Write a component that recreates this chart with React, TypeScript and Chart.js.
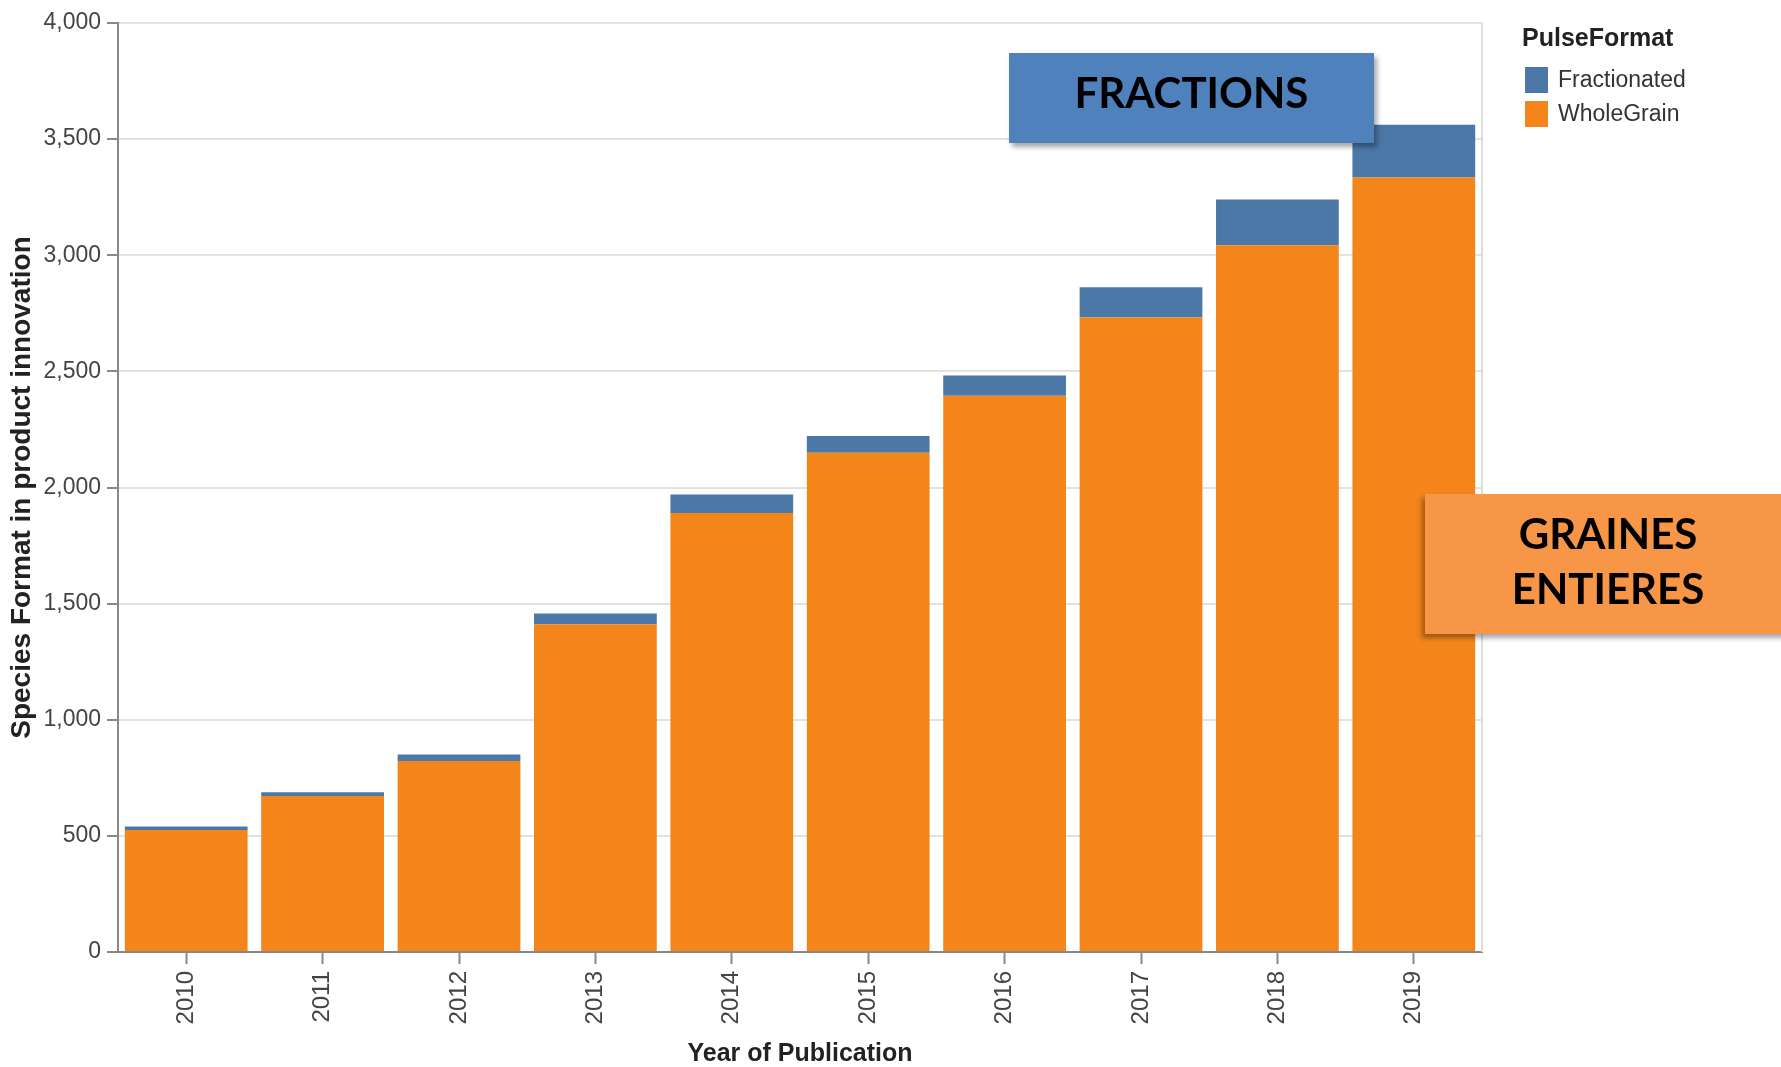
import React, { useEffect, useRef } from "react";
import { Chart, registerables } from "chart.js";

Chart.register(...registerables);

const years = ["2010", "2011", "2012", "2013", "2014", "2015", "2016", "2017", "2018", "2019"];
const wholeGrain = [525, 672, 822, 1411, 1890, 2150, 2395, 2732, 3043, 3335];
const fractionated = [15, 16, 28, 46, 80, 72, 87, 130, 197, 227];

const seriesNames = ["Fractionated", "WholeGrain"];
const seriesColors = ["#4c78a8", "#f3851b"];

const yTitle = "Species Format in product innovation";
const xTitle = "Year of Publication";
const legendTitle = "PulseFormat";

const FONT = "'Liberation Sans', Arial, Helvetica, sans-serif";

export default function App() {
  const canvasRef = useRef<HTMLCanvasElement | null>(null);

  useEffect(() => {
    if (!canvasRef.current) return;
    const borderPlugin = {
      id: "rightBorder",
      beforeDatasetsDraw(chart: any) {
        const { ctx, chartArea } = chart;
        ctx.save();
        ctx.strokeStyle = "#dddddd";
        ctx.lineWidth = 2;
        ctx.beginPath();
        ctx.moveTo(chartArea.right, chartArea.top);
        ctx.lineTo(chartArea.right, chartArea.bottom);
        ctx.stroke();
        ctx.restore();
      },
    };
    const chart = new Chart(canvasRef.current, {
      type: "bar",
      data: {
        labels: years,
        datasets: [
          {
            label: seriesNames[1],
            data: wholeGrain,
            backgroundColor: seriesColors[1],
            borderWidth: 0,
            barPercentage: 0.9,
            categoryPercentage: 1,
          },
          {
            label: seriesNames[0],
            data: fractionated,
            backgroundColor: seriesColors[0],
            borderWidth: 0,
            barPercentage: 0.9,
            categoryPercentage: 1,
          },
        ],
      },
      options: {
        animation: false,
        responsive: true,
        maintainAspectRatio: false,
        layout: { padding: { left: 0, right: 299, top: 23, bottom: 0 } },
        plugins: {
          legend: { display: false },
          tooltip: { enabled: false },
        },
        scales: {
          x: {
            stacked: true,
            afterFit(scale: any) {
              scale.height = 115;
            },
            grid: {
              drawOnChartArea: false,
              drawTicks: true,
              tickLength: 12,
              tickColor: "#888888",
              tickWidth: 2,
              offset: false,
            },
            border: { display: true, color: "#888888", width: 2 },
            ticks: {
              autoSkip: false,
              minRotation: 90,
              maxRotation: 90,
              padding: 7,
              color: "#444444",
              font: { family: FONT, size: 24 },
            },
            title: {
              display: true,
              text: xTitle,
              color: "#222222",
              font: { family: FONT, size: 25, weight: "bold", lineHeight: 1 },
              padding: { top: 0, bottom: 0 },
            },
          },
          y: {
            stacked: true,
            min: 0,
            max: 4000,
            afterFit(scale: any) {
              scale.width = 118;
            },
            grid: {
              color: "#e2e2e2",
              lineWidth: 2,
              drawTicks: true,
              tickLength: 11,
              tickColor: "#888888",
              tickWidth: 2,
            },
            border: { display: true, color: "#888888", width: 2 },
            ticks: {
              stepSize: 500,
              padding: 6,
              color: "#444444",
              font: { family: FONT, size: 23 },
              callback: (v: any) => Number(v).toLocaleString("en-US"),
            },
            title: {
              display: true,
              text: yTitle,
              color: "#222222",
              font: { family: FONT, size: 28, weight: "bold", lineHeight: 1 },
              padding: { top: 8, bottom: 0 },
            },
          },
        },
      },
      plugins: [borderPlugin],
    });
    return () => chart.destroy();
  }, []);

  const boxText: React.CSSProperties = {
    fontFamily: "Lato, 'Open Sans', sans-serif",
    fontWeight: 700,
    fontSize: 42,
    color: "#000",
    textAlign: "center",
    position: "absolute",
  };

  return (
    <div
      style={{
        position: "absolute",
        left: 0,
        top: 0,
        width: 1781,
        height: 1067,
        overflow: "hidden",
        background: "#ffffff",
      }}
    >
      <div style={{ position: "absolute", left: 0, top: 0, width: 1781, height: 1067 }}>
        <canvas ref={canvasRef} />
      </div>

      {/* Legend */}
      <div
        style={{
          position: "absolute",
          left: 1522,
          top: 25,
          fontFamily: FONT,
          fontWeight: 700,
          fontSize: 25,
          lineHeight: "24px",
          color: "#222",
          whiteSpace: "nowrap",
        }}
      >
        {legendTitle}
      </div>
      {seriesNames.map((name, i) => (
        <React.Fragment key={name}>
          <div
            style={{
              position: "absolute",
              left: 1525,
              top: 67 + i * 34,
              width: 23,
              height: 26,
              background: seriesColors[i],
            }}
          />
          <div
            style={{
              position: "absolute",
              left: 1558,
              top: 68 + i * 33.5,
              fontFamily: FONT,
              fontSize: 23,
              lineHeight: "23px",
              color: "#333",
              whiteSpace: "nowrap",
            }}
          >
            {name}
          </div>
        </React.Fragment>
      ))}

      {/* FRACTIONS annotation */}
      <div
        style={{
          position: "absolute",
          left: 1009,
          top: 53,
          width: 365,
          height: 90,
          background: "#4f81bd",
          boxShadow: "3px 4px 5px rgba(0,0,0,0.35)",
        }}
      >
        <div style={{ ...boxText, left: 0, width: 365, top: 18, lineHeight: "42px" }}>FRACTIONS</div>
      </div>

      {/* GRAINES ENTIERES annotation */}
      <div
        style={{
          position: "absolute",
          left: 1425,
          top: 494,
          width: 366,
          height: 140,
          background: "#f79646",
          boxShadow: "-3px 4px 5px rgba(0,0,0,0.35)",
        }}
      >
        <div style={{ ...boxText, left: 0, width: 366, top: 12, lineHeight: "55px" }}>
          GRAINES
          <br />
          ENTIERES
        </div>
      </div>
    </div>
  );
}
